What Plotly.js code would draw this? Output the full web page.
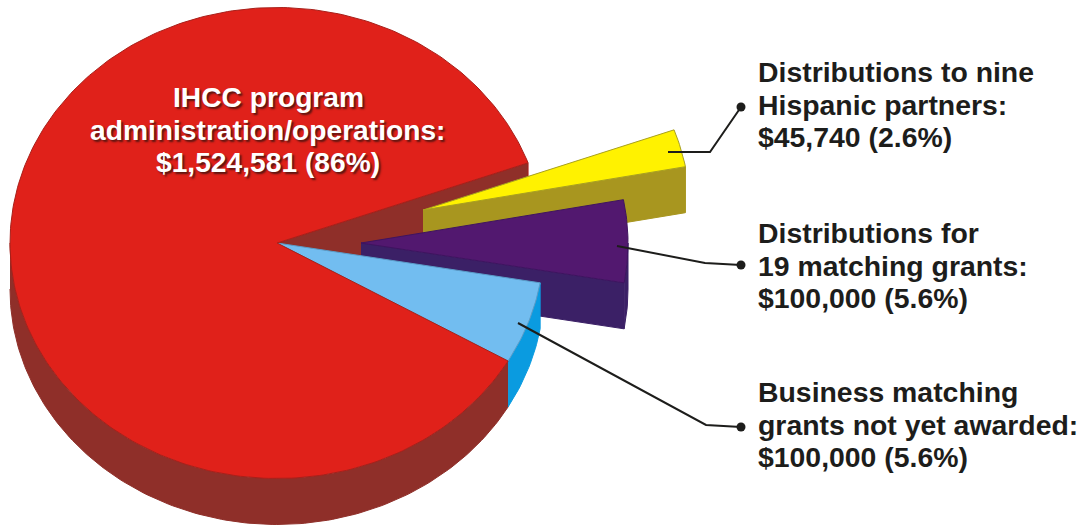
<!DOCTYPE html>
<html><head><meta charset="utf-8">
<script src="https://cdn.plot.ly/plotly-3.0.1.min.js"></script>
<style>html,body{margin:0;padding:0;background:#fff}#c{width:1081px;height:527px}</style>
</head><body><div id="c"></div>
<script>
// Data
const categories = ["IHCC program administration/operations","Business matching grants not yet awarded","Distributions for 19 matching grants","Distributions to nine Hispanic partners"];
const amounts = [1524581, 100000, 100000, 45740];
const topColors = ["#e0211a","#72bdf0","#52186f","#fff200"];
const sideColors = ["#8f2f29","#0a9be0","#3b2066","#a8961f"];
const edgeColors = ["#a8201a","#5a9cc8","#3f1460","#a8a020"];
const explodeX = [0,0,84,146];
const explodeY = [0,0,0,-33];
const labelLines = [
  ["Distributions to nine","Hispanic partners:","$45,740 (2.6%)"],
  ["Distributions for","19 matching grants:","$100,000 (5.6%)"],
  ["Business matching","grants not yet awarded:","$100,000 (5.6%)"]
];
const labelTop = [72,233,392];
const mainLines = ["IHCC program","administration/operations:","$1,524,581 (86%)"];

const CX=277, CY=243, RX=267, RY=235.5, DEPTH=46, START=19.9, PITCH=32.5;
const total = amounts.reduce((a,b)=>a+b,0);
const rad = d=>d*Math.PI/180;
const pt = (i,deg,dz=0)=>[CX+explodeX[i]+RX*Math.cos(rad(deg)), CY+explodeY[i]-RY*Math.sin(rad(deg))+dz];

function arc(i,a0,a1,dz=0){ const n=Math.max(2,Math.ceil(Math.abs(a1-a0))); const o=[];
  for(let k=0;k<=n;k++) o.push(pt(i,a0+(a1-a0)*k/n,dz)); return o; }
function poly(pts,fill,line,name){ return {type:"scatter",mode:"lines",x:pts.map(p=>p[0]),y:pts.map(p=>p[1]),
  fill:"toself",fillcolor:fill,line:{color:line,width:1},name:name,hoverinfo:"name",showlegend:false}; }

let spans=[]; let ang=START;
amounts.forEach((v,i)=>{ const sw=v/total*360; spans.push([ang,ang+sw]); ang+=sw; });
const traces=[];
function apex(i,dz=0){ return [CX+explodeX[i],CY+explodeY[i]+dz]; }

// red body: rim + cut face
{
  const [a0,a1]=spans[0];
  const rimA=arc(0,180,a1), rimB=arc(0,180,a1,DEPTH).reverse();
  traces.push(poly(rimA.concat(rimB),sideColors[0],sideColors[0],categories[0]));
  traces.push(poly([apex(0),pt(0,a0),pt(0,a0,DEPTH),apex(0,DEPTH)],sideColors[0],edgeColors[0],categories[0]));
}
// exploded and adjacent slices, back to front
[3,2,1].forEach(i=>{
  const [s,e]=spans[i];
  const lo=s-360, hi=e-360;
  if(i>1){
    traces.push(poly([apex(i),pt(i,Math.min(lo,hi)),pt(i,Math.min(lo,hi),DEPTH),apex(i,DEPTH)],sideColors[i],sideColors[i],categories[i]));
  }
  const rimEnd=Math.min(hi,0);
  if(lo<0 && rimEnd>lo){
    const a=arc(i,lo,rimEnd), b=arc(i,lo,rimEnd,DEPTH).reverse();
    traces.push(poly(a.concat(b),sideColors[i],sideColors[i],categories[i]));
  }
  traces.push(poly([apex(i)].concat(arc(i,lo,hi)).concat([apex(i)]),topColors[i],edgeColors[i],categories[i]));
});
// red top last so its edge sits over the neighbours
{
  const [a0,a1]=spans[0];
  traces.push(poly([apex(0)].concat(arc(0,a0,a1)).concat([apex(0)]),topColors[0],edgeColors[0],categories[0]));
}

const annotations=[];
labelLines.forEach((lines,g)=>lines.forEach((t,k)=>annotations.push({
  xref:"x",yref:"y",x:755.5,y:labelTop[g]+k*PITCH,text:t,showarrow:false,xanchor:"left",yanchor:"middle",
  font:{family:"Liberation Sans",size:28.4,color:"#1d1d1b",weight:700}})));
mainLines.forEach((t,k)=>annotations.push({
  xref:"x",yref:"y",x:268,y:97+k*PITCH,text:t,showarrow:false,xanchor:"center",yanchor:"middle",
  font:{family:"Liberation Sans",size:28.2,color:"#ffffff",weight:700,shadow:"2px 2px 2px #5a1510"}}));

const lead=(d)=>({type:"path",path:d,xref:"x",yref:"y",line:{color:"#1d1d1b",width:2}});
const dot=(x,y)=>({type:"circle",xref:"x",yref:"y",x0:x-4.5,x1:x+4.5,y0:y-4.5,y1:y+4.5,fillcolor:"#1d1d1b",line:{width:0}});
const shapes=[
  lead("M668,152 L710,152 L741,107"),dot(741,107),
  lead("M617,246 L705,263 L741,265"),dot(741,265),
  lead("M518,323 L706,425 L741,427"),dot(741,427)
];

Plotly.newPlot("c",traces,{
  width:1081,height:527,margin:{l:0,r:0,t:0,b:0},paper_bgcolor:"#fff",plot_bgcolor:"#fff",showlegend:false,
  xaxis:{range:[0,1081],visible:false,fixedrange:true},
  yaxis:{range:[527,0],visible:false,fixedrange:true},
  annotations,shapes
},{displayModeBar:false,staticPlot:true});
</script></body></html>
